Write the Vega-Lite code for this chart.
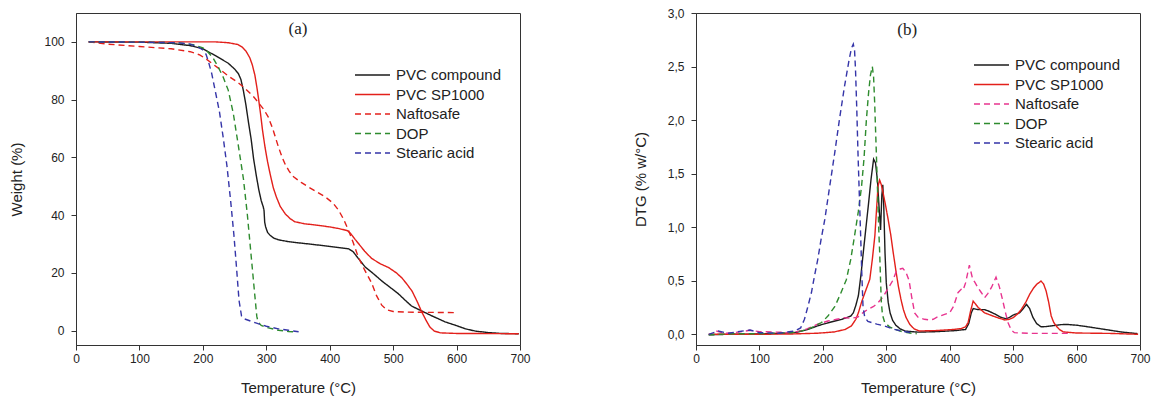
{
"$schema": "https://vega.github.io/schema/vega-lite/v6.json",
"background": "white",
"padding": {"left": 9, "top": 6, "right": 12, "bottom": 4},
"bounds": "flush",
"spacing": 176,
"config": {
  "view": {"stroke": "#333", "strokeWidth": 1},
  "axis": {"grid": false, "domainColor": "#333", "tickColor": "#333", "labelColor": "#222", "titleColor": "#222", "labelFont": "Liberation Sans", "titleFont": "Liberation Sans", "labelFontSize": 12, "titleFontSize": 15, "titleFontWeight": "normal", "labelFlush": false, "labelOverlap": false, "labelBound": false},
  "axisY": {"labelPadding": 7, "titlePadding": 19},
  "axisX": {"labelPadding": 3, "titlePadding": 16},
  "legend": {"orient": "none", "labelFont": "Liberation Sans", "labelFontSize": 15, "labelColor": "#222", "symbolSize": 1225, "symbolStrokeWidth": 1.4, "symbolType": "stroke", "rowPadding": 3.5, "clipHeight": 16, "labelOffset": 5, "padding": 0}
},
"datasets": {
"tga": [
{"s":"PVC compound","t":20,"v":100},{"s":"PVC compound","t":100,"v":99.9},{"s":"PVC compound","t":150,"v":99.5},{"s":"PVC compound","t":180,"v":98.7},{"s":"PVC compound","t":200,"v":97.6},{"s":"PVC compound","t":220,"v":95.2},{"s":"PVC compound","t":240,"v":92.6},{"s":"PVC compound","t":250,"v":90.6},{"s":"PVC compound","t":256,"v":89},{"s":"PVC compound","t":260,"v":87},{"s":"PVC compound","t":264,"v":83},{"s":"PVC compound","t":268,"v":78},{"s":"PVC compound","t":272,"v":72},{"s":"PVC compound","t":276,"v":66.5},{"s":"PVC compound","t":280,"v":59.5},{"s":"PVC compound","t":284,"v":54},{"s":"PVC compound","t":288,"v":49},{"s":"PVC compound","t":292,"v":45},{"s":"PVC compound","t":295.3,"v":42.8},{"s":"PVC compound","t":296.5,"v":41.5},{"s":"PVC compound","t":297.5,"v":37.5},{"s":"PVC compound","t":299,"v":35.9},{"s":"PVC compound","t":302,"v":34},{"s":"PVC compound","t":306,"v":33},{"s":"PVC compound","t":312,"v":32},{"s":"PVC compound","t":320,"v":31.4},{"s":"PVC compound","t":335,"v":30.8},{"s":"PVC compound","t":350,"v":30.4},{"s":"PVC compound","t":375,"v":29.8},{"s":"PVC compound","t":398,"v":29.2},{"s":"PVC compound","t":420,"v":28.6},{"s":"PVC compound","t":430,"v":28.3},{"s":"PVC compound","t":437,"v":27.3},{"s":"PVC compound","t":445,"v":25},{"s":"PVC compound","t":456,"v":22},{"s":"PVC compound","t":470,"v":19.5},{"s":"PVC compound","t":482,"v":17.2},{"s":"PVC compound","t":495,"v":15},{"s":"PVC compound","t":508,"v":12.8},{"s":"PVC compound","t":518,"v":10.7},{"s":"PVC compound","t":529,"v":8.5},{"s":"PVC compound","t":543,"v":7},{"s":"PVC compound","t":560,"v":5.2},{"s":"PVC compound","t":582,"v":3},{"s":"PVC compound","t":600,"v":1.7},{"s":"PVC compound","t":614,"v":0.6},{"s":"PVC compound","t":630,"v":-0.2},{"s":"PVC compound","t":650,"v":-0.7},{"s":"PVC compound","t":670,"v":-1},{"s":"PVC compound","t":698,"v":-1.1},
{"s":"PVC SP1000","t":20,"v":100},{"s":"PVC SP1000","t":150,"v":100},{"s":"PVC SP1000","t":220,"v":100},{"s":"PVC SP1000","t":240,"v":99.7},{"s":"PVC SP1000","t":255,"v":99.1},{"s":"PVC SP1000","t":262,"v":98.2},{"s":"PVC SP1000","t":268,"v":96.8},{"s":"PVC SP1000","t":274,"v":94.5},{"s":"PVC SP1000","t":278,"v":92},{"s":"PVC SP1000","t":282,"v":88.5},{"s":"PVC SP1000","t":285,"v":84.5},{"s":"PVC SP1000","t":288,"v":80},{"s":"PVC SP1000","t":291,"v":75},{"s":"PVC SP1000","t":294,"v":69.5},{"s":"PVC SP1000","t":298,"v":63.5},{"s":"PVC SP1000","t":302,"v":58.5},{"s":"PVC SP1000","t":306,"v":54.3},{"s":"PVC SP1000","t":311,"v":49.5},{"s":"PVC SP1000","t":316,"v":46.2},{"s":"PVC SP1000","t":322,"v":43},{"s":"PVC SP1000","t":330,"v":40.4},{"s":"PVC SP1000","t":338,"v":38.7},{"s":"PVC SP1000","t":345,"v":37.7},{"s":"PVC SP1000","t":360,"v":37},{"s":"PVC SP1000","t":380,"v":36.5},{"s":"PVC SP1000","t":400,"v":35.9},{"s":"PVC SP1000","t":415,"v":35.3},{"s":"PVC SP1000","t":428,"v":34.6},{"s":"PVC SP1000","t":433,"v":33.6},{"s":"PVC SP1000","t":440,"v":31.6},{"s":"PVC SP1000","t":447,"v":29.7},{"s":"PVC SP1000","t":455,"v":27.5},{"s":"PVC SP1000","t":466,"v":25},{"s":"PVC SP1000","t":480,"v":23.1},{"s":"PVC SP1000","t":493,"v":21.8},{"s":"PVC SP1000","t":505,"v":20},{"s":"PVC SP1000","t":514,"v":18.2},{"s":"PVC SP1000","t":522,"v":16},{"s":"PVC SP1000","t":530,"v":13.6},{"s":"PVC SP1000","t":538,"v":10},{"s":"PVC SP1000","t":545,"v":6.5},{"s":"PVC SP1000","t":552,"v":3.5},{"s":"PVC SP1000","t":558,"v":1.2},{"s":"PVC SP1000","t":565,"v":-0.2},{"s":"PVC SP1000","t":575,"v":-0.8},{"s":"PVC SP1000","t":600,"v":-1},{"s":"PVC SP1000","t":698,"v":-1.1},
{"s":"Naftosafe","t":20,"v":100},{"s":"Naftosafe","t":50,"v":99.2},{"s":"Naftosafe","t":100,"v":98.4},{"s":"Naftosafe","t":150,"v":97.6},{"s":"Naftosafe","t":180,"v":96.6},{"s":"Naftosafe","t":195,"v":95.5},{"s":"Naftosafe","t":205,"v":94.1},{"s":"Naftosafe","t":214,"v":92.6},{"s":"Naftosafe","t":225,"v":90.8},{"s":"Naftosafe","t":240,"v":88.2},{"s":"Naftosafe","t":255,"v":86},{"s":"Naftosafe","t":266,"v":84},{"s":"Naftosafe","t":280,"v":81},{"s":"Naftosafe","t":288,"v":78.8},{"s":"Naftosafe","t":296,"v":76.6},{"s":"Naftosafe","t":303,"v":74},{"s":"Naftosafe","t":310,"v":70},{"s":"Naftosafe","t":319,"v":63.7},{"s":"Naftosafe","t":325,"v":60},{"s":"Naftosafe","t":330,"v":57.5},{"s":"Naftosafe","t":336,"v":55.2},{"s":"Naftosafe","t":343,"v":53.3},{"s":"Naftosafe","t":355,"v":51.3},{"s":"Naftosafe","t":366,"v":49.8},{"s":"Naftosafe","t":380,"v":48},{"s":"Naftosafe","t":393,"v":46.3},{"s":"Naftosafe","t":405,"v":44.2},{"s":"Naftosafe","t":414,"v":41.7},{"s":"Naftosafe","t":422,"v":38.5},{"s":"Naftosafe","t":430,"v":34.5},{"s":"Naftosafe","t":437,"v":30.5},{"s":"Naftosafe","t":445,"v":25.5},{"s":"Naftosafe","t":455,"v":21},{"s":"Naftosafe","t":466,"v":16.5},{"s":"Naftosafe","t":474,"v":12},{"s":"Naftosafe","t":482,"v":8.8},{"s":"Naftosafe","t":490,"v":7.2},{"s":"Naftosafe","t":500,"v":6.6},{"s":"Naftosafe","t":520,"v":6.4},{"s":"Naftosafe","t":560,"v":6.3},{"s":"Naftosafe","t":600,"v":6.2},
{"s":"DOP","t":20,"v":100},{"s":"DOP","t":100,"v":99.9},{"s":"DOP","t":160,"v":99.7},{"s":"DOP","t":185,"v":99},{"s":"DOP","t":200,"v":97.9},{"s":"DOP","t":208,"v":96.5},{"s":"DOP","t":216,"v":94.4},{"s":"DOP","t":224,"v":91.4},{"s":"DOP","t":232,"v":87.8},{"s":"DOP","t":240,"v":83.3},{"s":"DOP","t":248,"v":75.2},{"s":"DOP","t":256,"v":64},{"s":"DOP","t":264,"v":52.5},{"s":"DOP","t":270,"v":40.5},{"s":"DOP","t":274,"v":31},{"s":"DOP","t":278,"v":21.5},{"s":"DOP","t":282,"v":12},{"s":"DOP","t":285,"v":5},{"s":"DOP","t":287,"v":3},{"s":"DOP","t":292,"v":1.8},{"s":"DOP","t":300,"v":1.1},{"s":"DOP","t":319,"v":0.1},{"s":"DOP","t":335,"v":-0.3},{"s":"DOP","t":348,"v":-0.5},
{"s":"Stearic acid","t":20,"v":100},{"s":"Stearic acid","t":100,"v":99.9},{"s":"Stearic acid","t":160,"v":99.7},{"s":"Stearic acid","t":180,"v":99.2},{"s":"Stearic acid","t":192,"v":98.3},{"s":"Stearic acid","t":200,"v":97.2},{"s":"Stearic acid","t":205,"v":95.7},{"s":"Stearic acid","t":209,"v":93},{"s":"Stearic acid","t":214,"v":89},{"s":"Stearic acid","t":220,"v":82.5},{"s":"Stearic acid","t":226,"v":76},{"s":"Stearic acid","t":232,"v":67},{"s":"Stearic acid","t":238,"v":57},{"s":"Stearic acid","t":244,"v":44.5},{"s":"Stearic acid","t":249,"v":33},{"s":"Stearic acid","t":253,"v":22},{"s":"Stearic acid","t":257,"v":10.5},{"s":"Stearic acid","t":261,"v":5},{"s":"Stearic acid","t":266,"v":4},{"s":"Stearic acid","t":275,"v":3.3},{"s":"Stearic acid","t":287,"v":2.4},{"s":"Stearic acid","t":300,"v":1.5},{"s":"Stearic acid","t":319,"v":0.6},{"s":"Stearic acid","t":335,"v":0.1},{"s":"Stearic acid","t":351,"v":-0.4}
],
"dtg": [
{"s":"PVC compound","t":20,"v":-0.005},{"s":"PVC compound","t":50,"v":0},{"s":"PVC compound","t":100,"v":0.003},{"s":"PVC compound","t":140,"v":0.01},{"s":"PVC compound","t":156,"v":0.016},{"s":"PVC compound","t":170,"v":0.035},{"s":"PVC compound","t":177,"v":0.047},{"s":"PVC compound","t":190,"v":0.075},{"s":"PVC compound","t":198,"v":0.09},{"s":"PVC compound","t":210,"v":0.11},{"s":"PVC compound","t":219,"v":0.124},{"s":"PVC compound","t":230,"v":0.14},{"s":"PVC compound","t":237,"v":0.155},{"s":"PVC compound","t":244,"v":0.17},{"s":"PVC compound","t":248,"v":0.2},{"s":"PVC compound","t":252,"v":0.27},{"s":"PVC compound","t":256,"v":0.36},{"s":"PVC compound","t":260,"v":0.55},{"s":"PVC compound","t":264,"v":0.78},{"s":"PVC compound","t":268,"v":1.0},{"s":"PVC compound","t":272,"v":1.22},{"s":"PVC compound","t":276,"v":1.45},{"s":"PVC compound","t":280,"v":1.635},{"s":"PVC compound","t":283,"v":1.6},{"s":"PVC compound","t":286,"v":1.44},{"s":"PVC compound","t":289,"v":1.15},{"s":"PVC compound","t":291,"v":0.975},{"s":"PVC compound","t":293,"v":1.3},{"s":"PVC compound","t":294.5,"v":1.395},{"s":"PVC compound","t":296,"v":1.2},{"s":"PVC compound","t":298,"v":0.76},{"s":"PVC compound","t":300,"v":0.48},{"s":"PVC compound","t":303,"v":0.3},{"s":"PVC compound","t":306,"v":0.2},{"s":"PVC compound","t":310,"v":0.13},{"s":"PVC compound","t":315,"v":0.085},{"s":"PVC compound","t":322,"v":0.05},{"s":"PVC compound","t":330,"v":0.03},{"s":"PVC compound","t":350,"v":0.02},{"s":"PVC compound","t":380,"v":0.025},{"s":"PVC compound","t":410,"v":0.035},{"s":"PVC compound","t":425,"v":0.045},{"s":"PVC compound","t":430,"v":0.1},{"s":"PVC compound","t":434,"v":0.2},{"s":"PVC compound","t":437,"v":0.24},{"s":"PVC compound","t":445,"v":0.23},{"s":"PVC compound","t":455,"v":0.23},{"s":"PVC compound","t":462,"v":0.215},{"s":"PVC compound","t":471,"v":0.19},{"s":"PVC compound","t":480,"v":0.16},{"s":"PVC compound","t":489,"v":0.145},{"s":"PVC compound","t":495,"v":0.16},{"s":"PVC compound","t":500,"v":0.18},{"s":"PVC compound","t":510,"v":0.2},{"s":"PVC compound","t":516,"v":0.24},{"s":"PVC compound","t":521,"v":0.28},{"s":"PVC compound","t":526,"v":0.24},{"s":"PVC compound","t":531,"v":0.16},{"s":"PVC compound","t":537,"v":0.1},{"s":"PVC compound","t":544,"v":0.07},{"s":"PVC compound","t":552,"v":0.072},{"s":"PVC compound","t":560,"v":0.078},{"s":"PVC compound","t":575,"v":0.09},{"s":"PVC compound","t":585,"v":0.092},{"s":"PVC compound","t":600,"v":0.085},{"s":"PVC compound","t":620,"v":0.068},{"s":"PVC compound","t":645,"v":0.045},{"s":"PVC compound","t":670,"v":0.022},{"s":"PVC compound","t":696,"v":0.006},
{"s":"PVC SP1000","t":20,"v":0},{"s":"PVC SP1000","t":100,"v":0},{"s":"PVC SP1000","t":150,"v":0.003},{"s":"PVC SP1000","t":192,"v":0.01},{"s":"PVC SP1000","t":218,"v":0.022},{"s":"PVC SP1000","t":235,"v":0.045},{"s":"PVC SP1000","t":245,"v":0.078},{"s":"PVC SP1000","t":252,"v":0.14},{"s":"PVC SP1000","t":256,"v":0.2},{"s":"PVC SP1000","t":261,"v":0.3},{"s":"PVC SP1000","t":267,"v":0.4},{"s":"PVC SP1000","t":274,"v":0.513},{"s":"PVC SP1000","t":278,"v":0.7},{"s":"PVC SP1000","t":282,"v":0.92},{"s":"PVC SP1000","t":285,"v":1.2},{"s":"PVC SP1000","t":287,"v":1.383},{"s":"PVC SP1000","t":289.5,"v":1.44},{"s":"PVC SP1000","t":292,"v":1.4},{"s":"PVC SP1000","t":295,"v":1.32},{"s":"PVC SP1000","t":299,"v":1.2},{"s":"PVC SP1000","t":303,"v":1.07},{"s":"PVC SP1000","t":307,"v":0.93},{"s":"PVC SP1000","t":311,"v":0.76},{"s":"PVC SP1000","t":315,"v":0.6},{"s":"PVC SP1000","t":319,"v":0.45},{"s":"PVC SP1000","t":323,"v":0.33},{"s":"PVC SP1000","t":327,"v":0.23},{"s":"PVC SP1000","t":331,"v":0.16},{"s":"PVC SP1000","t":337,"v":0.093},{"s":"PVC SP1000","t":344,"v":0.05},{"s":"PVC SP1000","t":352,"v":0.031},{"s":"PVC SP1000","t":380,"v":0.035},{"s":"PVC SP1000","t":405,"v":0.045},{"s":"PVC SP1000","t":418,"v":0.053},{"s":"PVC SP1000","t":425,"v":0.07},{"s":"PVC SP1000","t":429,"v":0.11},{"s":"PVC SP1000","t":433,"v":0.22},{"s":"PVC SP1000","t":437,"v":0.31},{"s":"PVC SP1000","t":441,"v":0.28},{"s":"PVC SP1000","t":445,"v":0.25},{"s":"PVC SP1000","t":455,"v":0.2},{"s":"PVC SP1000","t":468,"v":0.171},{"s":"PVC SP1000","t":478,"v":0.15},{"s":"PVC SP1000","t":487,"v":0.134},{"s":"PVC SP1000","t":494,"v":0.14},{"s":"PVC SP1000","t":500,"v":0.155},{"s":"PVC SP1000","t":507,"v":0.19},{"s":"PVC SP1000","t":513,"v":0.233},{"s":"PVC SP1000","t":520,"v":0.3},{"s":"PVC SP1000","t":526,"v":0.373},{"s":"PVC SP1000","t":532,"v":0.43},{"s":"PVC SP1000","t":537,"v":0.466},{"s":"PVC SP1000","t":544,"v":0.497},{"s":"PVC SP1000","t":548,"v":0.47},{"s":"PVC SP1000","t":552,"v":0.404},{"s":"PVC SP1000","t":556,"v":0.3},{"s":"PVC SP1000","t":560,"v":0.171},{"s":"PVC SP1000","t":564,"v":0.11},{"s":"PVC SP1000","t":568,"v":0.077},{"s":"PVC SP1000","t":573,"v":0.045},{"s":"PVC SP1000","t":579,"v":0.022},{"s":"PVC SP1000","t":600,"v":0.012},{"s":"PVC SP1000","t":655,"v":0.008},{"s":"PVC SP1000","t":697,"v":0},
{"s":"Naftosafe","t":32,"v":0.031},{"s":"Naftosafe","t":45,"v":0.009},{"s":"Naftosafe","t":60,"v":0.015},{"s":"Naftosafe","t":85,"v":0.037},{"s":"Naftosafe","t":100,"v":0.025},{"s":"Naftosafe","t":120,"v":0.022},{"s":"Naftosafe","t":145,"v":0.016},{"s":"Naftosafe","t":160,"v":0.025},{"s":"Naftosafe","t":175,"v":0.05},{"s":"Naftosafe","t":190,"v":0.09},{"s":"Naftosafe","t":208,"v":0.124},{"s":"Naftosafe","t":222,"v":0.14},{"s":"Naftosafe","t":234,"v":0.155},{"s":"Naftosafe","t":245,"v":0.15},{"s":"Naftosafe","t":255,"v":0.16},{"s":"Naftosafe","t":263,"v":0.2},{"s":"Naftosafe","t":271,"v":0.233},{"s":"Naftosafe","t":280,"v":0.26},{"s":"Naftosafe","t":287,"v":0.295},{"s":"Naftosafe","t":295,"v":0.35},{"s":"Naftosafe","t":302,"v":0.42},{"s":"Naftosafe","t":310,"v":0.5},{"s":"Naftosafe","t":316,"v":0.59},{"s":"Naftosafe","t":322,"v":0.61},{"s":"Naftosafe","t":326,"v":0.617},{"s":"Naftosafe","t":331,"v":0.58},{"s":"Naftosafe","t":336,"v":0.5},{"s":"Naftosafe","t":340,"v":0.35},{"s":"Naftosafe","t":344.7,"v":0.2},{"s":"Naftosafe","t":350,"v":0.16},{"s":"Naftosafe","t":360,"v":0.14},{"s":"Naftosafe","t":367,"v":0.135},{"s":"Naftosafe","t":374,"v":0.14},{"s":"Naftosafe","t":380,"v":0.16},{"s":"Naftosafe","t":392,"v":0.186},{"s":"Naftosafe","t":400,"v":0.202},{"s":"Naftosafe","t":406,"v":0.26},{"s":"Naftosafe","t":413,"v":0.388},{"s":"Naftosafe","t":418,"v":0.42},{"s":"Naftosafe","t":421,"v":0.41},{"s":"Naftosafe","t":425,"v":0.48},{"s":"Naftosafe","t":431,"v":0.645},{"s":"Naftosafe","t":436,"v":0.52},{"s":"Naftosafe","t":440,"v":0.482},{"s":"Naftosafe","t":445,"v":0.43},{"s":"Naftosafe","t":450,"v":0.388},{"s":"Naftosafe","t":455,"v":0.342},{"s":"Naftosafe","t":460,"v":0.38},{"s":"Naftosafe","t":466,"v":0.44},{"s":"Naftosafe","t":473,"v":0.533},{"s":"Naftosafe","t":478,"v":0.45},{"s":"Naftosafe","t":483,"v":0.33},{"s":"Naftosafe","t":488,"v":0.2},{"s":"Naftosafe","t":492,"v":0.108},{"s":"Naftosafe","t":497,"v":0.04},{"s":"Naftosafe","t":502,"v":0.015},{"s":"Naftosafe","t":525,"v":0.009},{"s":"Naftosafe","t":580,"v":0.009},{"s":"Naftosafe","t":592,"v":0.009},
{"s":"DOP","t":20,"v":-0.005},{"s":"DOP","t":60,"v":0.005},{"s":"DOP","t":100,"v":0.005},{"s":"DOP","t":150,"v":0.015},{"s":"DOP","t":165,"v":0.03},{"s":"DOP","t":177,"v":0.047},{"s":"DOP","t":188,"v":0.08},{"s":"DOP","t":198,"v":0.11},{"s":"DOP","t":208,"v":0.17},{"s":"DOP","t":219,"v":0.26},{"s":"DOP","t":228,"v":0.38},{"s":"DOP","t":237,"v":0.51},{"s":"DOP","t":244,"v":0.7},{"s":"DOP","t":250,"v":0.92},{"s":"DOP","t":256,"v":1.15},{"s":"DOP","t":261,"v":1.38},{"s":"DOP","t":265,"v":1.65},{"s":"DOP","t":268.6,"v":2.0},{"s":"DOP","t":272,"v":2.25},{"s":"DOP","t":275,"v":2.42},{"s":"DOP","t":278,"v":2.5},{"s":"DOP","t":280,"v":2.4},{"s":"DOP","t":281.7,"v":2.16},{"s":"DOP","t":284,"v":1.75},{"s":"DOP","t":286,"v":1.38},{"s":"DOP","t":288,"v":1.0},{"s":"DOP","t":289.6,"v":0.76},{"s":"DOP","t":291,"v":0.5},{"s":"DOP","t":292.2,"v":0.3},{"s":"DOP","t":294,"v":0.18},{"s":"DOP","t":297.5,"v":0.11},{"s":"DOP","t":305,"v":0.07},{"s":"DOP","t":313,"v":0.047},{"s":"DOP","t":325,"v":0.025},{"s":"DOP","t":340,"v":0.01},{"s":"DOP","t":348,"v":0.005},
{"s":"Stearic acid","t":20,"v":0},{"s":"Stearic acid","t":35,"v":0.03},{"s":"Stearic acid","t":50,"v":0.01},{"s":"Stearic acid","t":85,"v":0.04},{"s":"Stearic acid","t":100,"v":0.015},{"s":"Stearic acid","t":130,"v":0.01},{"s":"Stearic acid","t":155,"v":0.03},{"s":"Stearic acid","t":165,"v":0.06},{"s":"Stearic acid","t":171,"v":0.14},{"s":"Stearic acid","t":176,"v":0.25},{"s":"Stearic acid","t":182,"v":0.39},{"s":"Stearic acid","t":187,"v":0.55},{"s":"Stearic acid","t":192,"v":0.7},{"s":"Stearic acid","t":197,"v":0.88},{"s":"Stearic acid","t":203,"v":1.07},{"s":"Stearic acid","t":210,"v":1.35},{"s":"Stearic acid","t":218.6,"v":1.69},{"s":"Stearic acid","t":226,"v":2.0},{"s":"Stearic acid","t":234,"v":2.31},{"s":"Stearic acid","t":241,"v":2.55},{"s":"Stearic acid","t":245,"v":2.67},{"s":"Stearic acid","t":248,"v":2.71},{"s":"Stearic acid","t":250,"v":2.65},{"s":"Stearic acid","t":251.5,"v":2.47},{"s":"Stearic acid","t":253.5,"v":2.1},{"s":"Stearic acid","t":255.4,"v":1.69},{"s":"Stearic acid","t":257.5,"v":1.3},{"s":"Stearic acid","t":259.6,"v":0.92},{"s":"Stearic acid","t":261.5,"v":0.55},{"s":"Stearic acid","t":263.3,"v":0.26},{"s":"Stearic acid","t":266,"v":0.16},{"s":"Stearic acid","t":271,"v":0.12},{"s":"Stearic acid","t":285,"v":0.095},{"s":"Stearic acid","t":297.5,"v":0.077},{"s":"Stearic acid","t":310,"v":0.05},{"s":"Stearic acid","t":324,"v":0.03},{"s":"Stearic acid","t":340,"v":0.015}
]
},
"hconcat": [
{
 "width": 444, "height": 332,
 "layer": [
  {"data": {"name": "tga"},
   "mark": {"type": "line", "strokeWidth": 1.4},
   "encoding": {
    "x": {"field": "t", "type": "quantitative", "scale": {"domain": [0, 700], "nice": false},
      "axis": {"title": "Temperature (°C)", "values": [0,50,100,150,200,250,300,350,400,450,500,550,600,650,700], "labelExpr": "datum.value % 100 === 0 ? datum.label : ''", "tickSize": {"condition": {"test": "datum.value % 100 !== 0", "value": 3}, "value": 5}}},
    "y": {"field": "v", "type": "quantitative", "scale": {"domain": [-5, 110], "nice": false, "zero": false},
      "axis": {"title": "Weight (%)", "values": [0,10,20,30,40,50,60,70,80,90,100], "labelExpr": "datum.value % 20 === 0 ? datum.label : ''", "tickSize": {"condition": {"test": "datum.value % 20 !== 0", "value": 3}, "value": 5}}},
    "color": {"field": "s", "type": "nominal", "title": null,
      "scale": {"domain": ["PVC compound", "PVC SP1000", "Naftosafe", "DOP", "Stearic acid"], "range": ["#1c1c1c", "#e3201b", "#e3201b", "#2e8b2e", "#3535a8"]},
      "legend": {"legendX": 278, "legendY": 54}},
    "strokeDash": {"field": "s", "type": "nominal", "title": null,
      "scale": {"domain": ["PVC compound", "PVC SP1000", "Naftosafe", "DOP", "Stearic acid"], "range": [[1,0],[1,0],[6,4],[6,4],[6,4]]},
      "legend": {"legendX": 278, "legendY": 54}}
   }},
  {"data": {"values": [{}]},
   "mark": {"type": "text", "font": "Liberation Serif", "fontSize": 17, "color": "#222", "baseline": "middle", "align": "center"},
   "encoding": {"x": {"datum": 350}, "y": {"datum": 104.4}, "text": {"value": "(a)"}}}
 ]
},
{
 "width": 444, "height": 332,
 "layer": [
  {"data": {"name": "dtg"},
   "mark": {"type": "line", "strokeWidth": 1.4},
   "encoding": {
    "x": {"field": "t", "type": "quantitative", "scale": {"domain": [0, 700], "nice": false},
      "axis": {"title": "Temperature (°C)", "values": [0,50,100,150,200,250,300,350,400,450,500,550,600,650,700], "labelExpr": "datum.value % 100 === 0 ? datum.label : ''", "tickSize": {"condition": {"test": "datum.value % 100 !== 0", "value": 3}, "value": 5}}},
    "y": {"field": "v", "type": "quantitative", "scale": {"domain": [-0.1, 3.0], "nice": false, "zero": false},
      "axis": {"title": "DTG (% w/°C)", "values": [0,0.25,0.5,0.75,1,1.25,1.5,1.75,2,2.25,2.5,2.75,3], "labelExpr": "abs(datum.value*2 - round(datum.value*2)) < 0.001 ? replace(format(datum.value, '.1f'), '.', ',') : ''", "tickSize": {"condition": {"test": "abs(datum.value*2 - round(datum.value*2)) > 0.001", "value": 3}, "value": 5}}},
    "color": {"field": "s", "type": "nominal", "title": null,
      "scale": {"domain": ["PVC compound", "PVC SP1000", "Naftosafe", "DOP", "Stearic acid"], "range": ["#1c1c1c", "#e3201b", "#e8348f", "#2e8b2e", "#3535a8"]},
      "legend": {"legendX": 277, "legendY": 44}},
    "strokeDash": {"field": "s", "type": "nominal", "title": null,
      "scale": {"domain": ["PVC compound", "PVC SP1000", "Naftosafe", "DOP", "Stearic acid"], "range": [[1,0],[1,0],[6,4],[6,4],[6,4]]},
      "legend": {"legendX": 277, "legendY": 44}}
   }},
  {"data": {"values": [{}]},
   "mark": {"type": "text", "font": "Liberation Serif", "fontSize": 17, "color": "#222", "baseline": "middle", "align": "center"},
   "encoding": {"x": {"datum": 333}, "y": {"datum": 2.84}, "text": {"value": "(b)"}}}
 ]
}
],
"resolve": {"scale": {"color": "independent", "strokeDash": "independent"}, "legend": {"color": "independent", "strokeDash": "independent"}}
}
